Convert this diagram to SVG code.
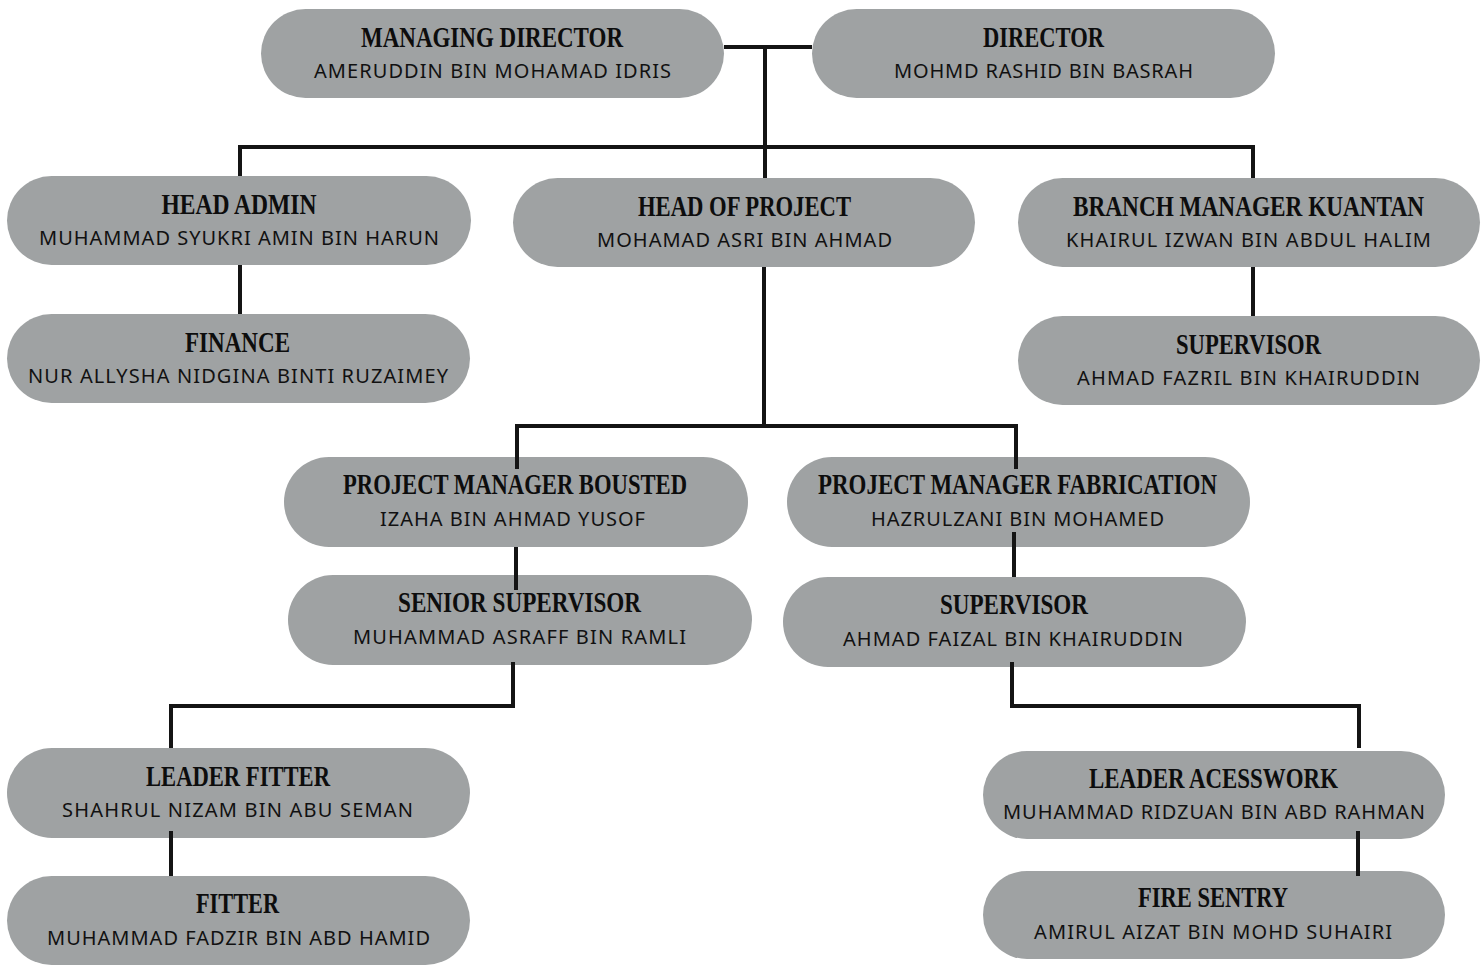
<svg xmlns="http://www.w3.org/2000/svg" width="1483" height="965" viewBox="0 0 1483 965">
<style>
.box{fill:#9fa2a3}
.t{font-family:"Liberation Serif","Times New Roman",serif;font-weight:bold;font-size:30px;fill:#0d0d0d;text-anchor:middle}
.n{font-family:"Noto Sans","Open Sans",sans-serif;font-size:20px;fill:#111;text-anchor:middle}
.c{fill:none;stroke:#141414;stroke-width:4;stroke-linecap:butt;stroke-linejoin:miter}
</style>
<rect width="1483" height="965" fill="#fff"/>
<g id="nodes">
<g id="managing-director"><rect class="box" x="261" y="9" width="463" height="89" rx="44.5"/><text class="t" x="492" y="47" textLength="262" lengthAdjust="spacingAndGlyphs">MANAGING DIRECTOR</text><text class="n" x="492.5" y="78" textLength="357">AMERUDDIN BIN MOHAMAD IDRIS</text></g>
<g id="director"><rect class="box" x="812" y="9" width="463" height="89" rx="44.5"/><text class="t" x="1043.5" y="47" textLength="121" lengthAdjust="spacingAndGlyphs">DIRECTOR</text><text class="n" x="1043.5" y="78" textLength="299">MOHMD RASHID BIN BASRAH</text></g>
<g id="head-admin"><rect class="box" x="7" y="176" width="464" height="89" rx="44.5"/><text class="t" x="239" y="214" textLength="155" lengthAdjust="spacingAndGlyphs">HEAD ADMIN</text><text class="n" x="239" y="245" textLength="400">MUHAMMAD SYUKRI AMIN BIN HARUN</text></g>
<g id="head-of-project"><rect class="box" x="513" y="178" width="462" height="89" rx="44.5"/><text class="t" x="744.5" y="216" textLength="213" lengthAdjust="spacingAndGlyphs">HEAD OF PROJECT</text><text class="n" x="744.5" y="247" textLength="295">MOHAMAD ASRI BIN AHMAD</text></g>
<g id="branch-manager-kuantan"><rect class="box" x="1018" y="178" width="462" height="89" rx="44.5"/><text class="t" x="1248.5" y="216" textLength="351" lengthAdjust="spacingAndGlyphs">BRANCH MANAGER KUANTAN</text><text class="n" x="1248.5" y="247" textLength="365">KHAIRUL IZWAN BIN ABDUL HALIM</text></g>
<g id="finance"><rect class="box" x="7" y="314" width="463" height="89" rx="44.5"/><text class="t" x="237.5" y="352" textLength="105" lengthAdjust="spacingAndGlyphs">FINANCE</text><text class="n" x="238" y="383" textLength="420">NUR ALLYSHA NIDGINA BINTI RUZAIMEY</text></g>
<g id="supervisor-kuantan"><rect class="box" x="1018" y="316" width="462" height="89" rx="44.5"/><text class="t" x="1248.5" y="354" textLength="145" lengthAdjust="spacingAndGlyphs">SUPERVISOR</text><text class="n" x="1248.5" y="385" textLength="343">AHMAD FAZRIL BIN KHAIRUDDIN</text></g>
<g id="pm-bousted"><rect class="box" x="284" y="457" width="464" height="90" rx="45"/><text class="t" x="515" y="494" textLength="344" lengthAdjust="spacingAndGlyphs">PROJECT MANAGER BOUSTED</text><text class="n" x="512.5" y="526" textLength="265">IZAHA BIN AHMAD YUSOF</text></g>
<g id="pm-fabrication"><rect class="box" x="787" y="457" width="463" height="90" rx="45"/><text class="t" x="1017.5" y="494" textLength="399" lengthAdjust="spacingAndGlyphs">PROJECT MANAGER FABRICATION</text><text class="n" x="1017.5" y="526" textLength="293">HAZRULZANI BIN MOHAMED</text></g>
<g id="senior-supervisor"><rect class="box" x="288" y="575" width="464" height="90" rx="45"/><text class="t" x="519.5" y="612" textLength="243" lengthAdjust="spacingAndGlyphs">SENIOR SUPERVISOR</text><text class="n" x="519.5" y="644" textLength="333">MUHAMMAD ASRAFF BIN RAMLI</text></g>
<g id="supervisor-fabrication"><rect class="box" x="783" y="577" width="463" height="90" rx="45"/><text class="t" x="1014" y="614" textLength="148" lengthAdjust="spacingAndGlyphs">SUPERVISOR</text><text class="n" x="1013" y="646" textLength="340">AHMAD FAIZAL BIN KHAIRUDDIN</text></g>
<g id="leader-fitter"><rect class="box" x="7" y="748" width="463" height="90" rx="45"/><text class="t" x="238" y="786" textLength="184" lengthAdjust="spacingAndGlyphs">LEADER FITTER</text><text class="n" x="237.5" y="817" textLength="351">SHAHRUL NIZAM BIN ABU SEMAN</text></g>
<g id="fitter"><rect class="box" x="7" y="876" width="463" height="89" rx="44.5"/><text class="t" x="237.5" y="913" textLength="83" lengthAdjust="spacingAndGlyphs">FITTER</text><text class="n" x="238.5" y="945" textLength="383">MUHAMMAD FADZIR BIN ABD HAMID</text></g>
<g id="leader-acesswork"><rect class="box" x="983" y="751" width="462" height="88" rx="44"/><text class="t" x="1213.5" y="788" textLength="249" lengthAdjust="spacingAndGlyphs">LEADER ACESSWORK</text><text class="n" x="1214" y="819" textLength="422">MUHAMMAD RIDZUAN BIN ABD RAHMAN</text></g>
<g id="fire-sentry"><rect class="box" x="983" y="871" width="462" height="88" rx="44"/><text class="t" x="1213" y="907" textLength="150" lengthAdjust="spacingAndGlyphs">FIRE SENTRY</text><text class="n" x="1213" y="939" textLength="358">AMIRUL AIZAT BIN MOHD SUHAIRI</text></g>
</g>
<g id="connectors">
<path class="c" d="M724 47H812"/>
<path class="c" d="M765 47V178"/>
<path class="c" d="M240 176V147H1253V178"/>
<path class="c" d="M240 265V314"/>
<path class="c" d="M1253 267V316"/>
<path class="c" d="M764 267V426"/>
<path class="c" d="M517 469V426H1016V469"/>
<path class="c" d="M516 547V590"/>
<path class="c" d="M1014 532V577"/>
<path class="c" d="M513 662V706H171V748"/>
<path class="c" d="M1012 662V706H1359V748"/>
<path class="c" d="M171 831V876"/>
<path class="c" d="M1358 831V876"/>
</g>
</svg>
